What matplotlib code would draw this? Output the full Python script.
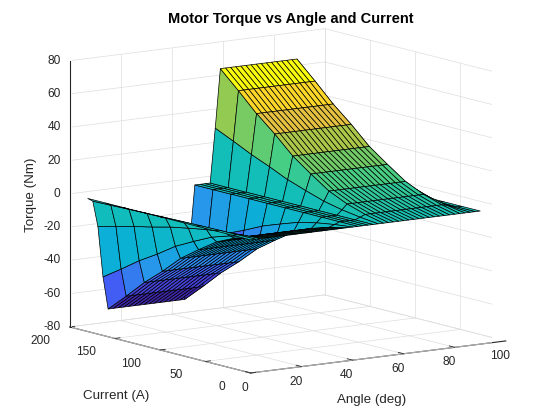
import numpy as np
import matplotlib
matplotlib.use('Agg')
import matplotlib.pyplot as plt
from matplotlib.colors import LinearSegmentedColormap, Normalize
from mpl_toolkits.mplot3d import proj3d

# grid of the torque table (angle every 2 deg, current every 20 A)
angle_deg = [0, 2, 4, 6, 8, 10, 12, 14, 16, 18, 20, 22, 24, 26, 28, 30,
             32, 34, 36, 38, 40, 42, 44, 46, 48, 50, 52, 54, 56, 58, 60, 62,
             64, 66, 68, 70, 72, 74, 76, 78, 80, 82, 84, 86, 88, 90]
current_a = [0, 20, 40, 60, 80, 100, 120, 140, 160, 180]

# peak torque reached at each current (Nm)
peak_torque = [0, 2.5, 6, 11, 18.5, 26.5, 37, 46.5, 57.5, 68]

# normalised torque profile over angle
torque_shape = [0, -0.03, -0.26, -0.71, -1, -1, -1, -1, -1, -1, -1, -1, -1, -1, -1, -1,
                -1, -1, -1, -1, -0.5, 0, 0, 0, 0, 0.48, 1, 1, 1, 1, 1, 1,
                1, 1, 1, 1, 1, 1, 1, 1, 1, 1, 0.71, 0.26, 0.03, 0]

x_ticks = [0, 20, 40, 60, 80, 100]
y_ticks = [0, 50, 100, 150, 200]
z_ticks = [-80, -60, -40, -20, 0, 20, 40, 60, 80]
x_lim = (0, 100)
y_lim = (0, 200)
z_lim = (-80, 80)

# matlab parula (approx)
parula_pts = [(0.2422, 0.1504, 0.6603), (0.2810, 0.3228, 0.9579),
              (0.1540, 0.5902, 0.9218), (0.0380, 0.6900, 0.8400),
              (0.0704, 0.7457, 0.7258), (0.2586, 0.8073, 0.5321),
              (0.6000, 0.7900, 0.3000), (0.9956, 0.7456, 0.2345),
              (0.9763, 0.9831, 0.0538)]
parula = LinearSegmentedColormap.from_list('parula', parula_pts)

plt.rcParams['font.family'] = ['Liberation Sans', 'DejaVu Sans']

txt_col = (0.15, 0.15, 0.15)
grid_col = '#dedede'

# rows go from high current to low so each face takes the colour of its high-current corner
A, I = np.meshgrid(angle_deg, current_a[::-1])
T = np.outer(peak_torque[::-1], torque_shape)
fc = parula(Normalize(T.min(), T.max())(T))

fig = plt.figure(figsize=(5.6, 4.2), dpi=100)
ax = fig.add_axes([2/560, 3.5/420, 1.0, 1.0], projection='3d')
ax.set_proj_type('ortho')
ax.computed_zorder = False

# grid on floor and the two back walls (matlab style), drawn by hand
x0, x1 = x_lim
y0, y1 = y_lim
z0, z1 = z_lim
gkw = dict(color=grid_col, lw=0.5, zorder=1)
for t in x_ticks:
    ax.plot([t, t], [y0, y1], [z0, z0], **gkw)
    ax.plot([t, t], [y1, y1], [z0, z1], **gkw)
for c in y_ticks:
    ax.plot([x0, x1], [c, c], [z0, z0], **gkw)
    ax.plot([x1, x1], [c, c], [z0, z1], **gkw)
for z in z_ticks:
    ax.plot([x1, x1], [y0, y1], [z, z], **gkw)
    ax.plot([x0, x1], [y1, y1], [z, z], **gkw)

ax.plot_surface(A, I, T, facecolors=fc, edgecolor='k', linewidth=0.5,
                rstride=1, cstride=1, shade=False, antialiased=True, zorder=2)

ax.view_init(elev=10.3, azim=-125.1)
ax.set_box_aspect((310, 313, 269), zoom=1.2)
ax.set_xlim(*x_lim)
ax.set_ylim(*y_lim)
ax.set_zlim(*z_lim)
ax.set_xticks([])
ax.set_yticks([])
ax.set_zticks([])
ax.grid(False)

for axis in (ax.xaxis, ax.yaxis, ax.zaxis):
    axis.pane.set_facecolor((1, 1, 1, 0))
    axis.pane.set_edgecolor((1, 1, 1, 0))
    axis.line.set_color(txt_col)
    axis.line.set_linewidth(0.8)

# tick marks
tkw = dict(color=txt_col, lw=0.6, zorder=1)
for v in x_ticks:
    ax.plot([v, v], [y0, y0 + 6], [z0, z0], **tkw)
for v in y_ticks:
    ax.plot([x0, x0 + 2], [v, v], [z0, z0], **tkw)
for v in z_ticks:
    ax.plot([x0 - 1.8, x0], [y1, y1], [v, v], **tkw)

# tick labels: project the 3d anchor once the view is set, then use plain figure text
fig.canvas.draw()


def fig_pos(x, y, z):
    px, py, _ = proj3d.proj_transform(x, y, z, ax.M)
    return fig.transFigure.inverted().transform(ax.transData.transform((px, py)))


for v in x_ticks:
    fx, fy = fig_pos(v, 6.7, -90)
    fig.text(fx, fy, str(v), ha='center', va='center', fontsize=8.6, color=txt_col)
for v in y_ticks:
    fx, fy = fig_pos(-11.4, v, -86.2)
    fig.text(fx, fy, str(v), ha='center', va='center', fontsize=8.6, color=txt_col)
for v in z_ticks:
    fx, fy = fig_pos(-2.4, 203.3, v)
    fig.text(fx, fy, str(v), ha='right', va='center', fontsize=8.6, color=txt_col)

fig.text(290.5/560, 1-19/420, 'Motor Torque vs Angle and Current', ha='center', va='center',
         fontsize=10.5, fontweight='bold')
fig.text(31/560, 1-195/420, 'Torque (Nm)', rotation=90, ha='center', va='center', fontsize=9.6,
         color=txt_col)
fig.text(116/560, 1-396/420, 'Current (A)', ha='center', va='center', fontsize=9.6,
         color=txt_col)
fig.text(372/560, 1-400/420, 'Angle (deg)', ha='center', va='center', fontsize=9.6,
         color=txt_col)

fig.savefig('out.png', dpi=100)
